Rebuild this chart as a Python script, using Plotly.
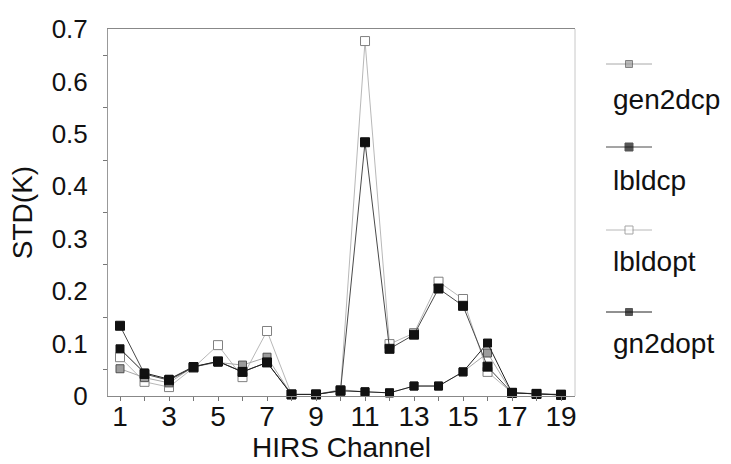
import plotly.graph_objects as go

channels = list(range(1, 20))
gen2dcp = [0.052, 0.035, 0.025, 0.056, 0.064, 0.059, 0.074, 0.003, 0.003, 0.012,
           0.008, 0.006, 0.019, 0.019, 0.046, 0.082, 0.006, 0.004, 0.003]
lbldcp = [0.134, 0.042, 0.030, 0.055, 0.066, 0.046, 0.064, 0.003, 0.003, 0.010,
          0.484, 0.090, 0.117, 0.205, 0.172, 0.056, 0.006, 0.004, 0.002]
lbldopt = [0.074, 0.027, 0.017, 0.054, 0.097, 0.036, 0.124, 0.003, 0.003, 0.011,
           0.677, 0.099, 0.120, 0.218, 0.185, 0.046, 0.006, 0.004, 0.003]
gn2dopt = [0.090, 0.044, 0.032, 0.056, 0.066, 0.046, 0.064, 0.003, 0.003, 0.010,
           0.008, 0.006, 0.019, 0.019, 0.046, 0.101, 0.006, 0.004, 0.002]

x_ticks = [1, 3, 5, 7, 9, 11, 13, 15, 17, 19]
y_ticks = [0, 0.1, 0.2, 0.3, 0.4, 0.5, 0.6, 0.7]
y_tick_text = ["0", "0.1", "0.2", "0.3", "0.4", "0.5", "0.6", "0.7"]

series_names = ["gen2dcp", "lbldcp", "lbldopt", "gn2dopt"]

FONT = "Liberation Sans, Arial, sans-serif"
styles = {
    "gen2dcp": dict(line=dict(color="#a8a8a8", width=1),
                    marker=dict(symbol="square", size=8, color="#9c9c9c",
                                line=dict(color="#505050", width=1))),
    "lbldcp": dict(line=dict(color="#4a4a4a", width=1),
                   marker=dict(symbol="square", size=9, color="#111111",
                               line=dict(color="#111111", width=1))),
    "lbldopt": dict(line=dict(color="#b8b8b8", width=1),
                    marker=dict(symbol="square", size=9, color="#ffffff",
                                line=dict(color="#808080", width=1))),
    "gn2dopt": dict(line=dict(color="#222222", width=1),
                    marker=dict(symbol="square", size=8, color="#111111",
                                line=dict(color="#111111", width=1))),
}
data_map = {"gen2dcp": gen2dcp, "lbldcp": lbldcp, "lbldopt": lbldopt, "gn2dopt": gn2dopt}

fig = go.Figure()
for name in ["lbldopt", "gen2dcp", "lbldcp", "gn2dopt"]:
    fig.add_trace(go.Scatter(x=channels, y=data_map[name], mode="lines+markers",
                             name=name, showlegend=False, cliponaxis=False,
                             **styles[name]))

# custom legend: sample line with marker above the label
W, H = 731, 464
ml, mr, mt, mb = 108, 10, 29, 68
pw = W - ml - mr
ph = H - mt - mb
def px_x(p):
    return (p - ml) / pw
def px_y(p):
    return (H - mb - p) / ph

sample_y = [64, 147, 230, 312]
label_y = [100, 180, 261, 343]
for name, sy, ly in zip(series_names, sample_y, label_y):
    st = styles[name]
    fig.add_trace(go.Scatter(x=[0, 0.5, 1], y=[px_y(sy)] * 3, mode="lines+markers",
                             xaxis="x2", yaxis="y2", showlegend=False, hoverinfo="skip",
                             line=st["line"],
                             marker=dict(symbol="square", size=[0, st["marker"]["size"] - 1, 0],
                                         color=st["marker"]["color"],
                                         line=st["marker"]["line"])))
    fig.add_annotation(text=name, xref="paper", yref="paper", x=px_x(611), y=px_y(ly),
                       xanchor="left", yanchor="middle", showarrow=False,
                       font=dict(family=FONT, size=28, color="#111"))

fig.update_layout(
    width=W, height=H,
    margin=dict(l=ml, r=mr, t=mt, b=mb, autoexpand=False),
    paper_bgcolor="white", plot_bgcolor="white",
    font=dict(family=FONT, color="#111"),
    xaxis=dict(domain=[0, px_x(575)], range=[0.51, 19.57],
               tickvals=x_ticks, ticktext=[str(v) for v in x_ticks],
               tickfont=dict(size=28), ticks="outside", ticklen=4, tickcolor="#777",
               ticklabelstandoff=-9,
               minor=dict(tickvals=channels, ticks="outside", ticklen=4, tickcolor="#777"),
               showline=True, linecolor="#888", linewidth=1, mirror=True,
               showgrid=False, zeroline=False,
               title=dict(text="HIRS Channel", font=dict(size=28), standoff=0)),
    yaxis=dict(domain=[0, 1], range=[0, 0.7],
               tickvals=y_ticks, ticktext=y_tick_text, tickfont=dict(size=26),
               ticks="", ticklabelstandoff=14,
               minor=dict(tickvals=[0.05, 0.15, 0.25, 0.35, 0.45, 0.55, 0.65],
                          ticks="outside", ticklen=4, tickcolor="#777"),
               showline=True, linecolor="#999", linewidth=1,
               showgrid=False, zeroline=False,
               title=dict(text="STD(K)", font=dict(size=28), standoff=10)),
    xaxis2=dict(domain=[px_x(606), px_x(652)], range=[0, 1], visible=False, anchor="y2"),
    yaxis2=dict(domain=[0, 1], range=[0, 1], visible=False, anchor="x2"),
    shapes=[dict(type="line", xref="paper", yref="paper", x0=px_x(575), x1=px_x(575),
                 y0=0, y1=1, line=dict(color="#c8c8c8", width=1))],
)

fig.write_html("out.html", config={"displayModeBar": False},
               post_script="document.body.style.margin='0';")
